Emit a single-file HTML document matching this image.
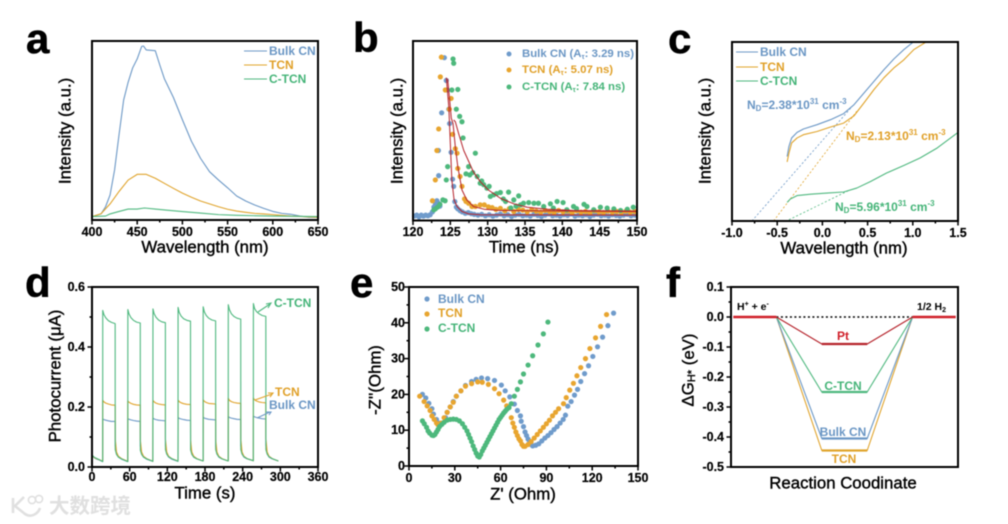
<!DOCTYPE html>
<html>
<head>
<meta charset="utf-8">
<title>Photoelectrochemical characterisation panels</title>
<style>
html,body{margin:0;padding:0;background:#fff;width:1008px;height:524px;overflow:hidden}
svg{display:block;filter:blur(.45px);font-family:"Liberation Sans","Noto Sans CJK SC",sans-serif}
.letter{font-size:42px;font-weight:700;fill:#000;stroke:#000;stroke-width:.5}
.axt{font-size:16.8px;fill:#000;stroke:#000;stroke-width:.4;text-anchor:middle;dominant-baseline:central}
.tick{font-size:12.5px;font-weight:700;fill:#000;stroke:#000;stroke-width:.2}
.leg{font-size:12px;font-weight:700;dominant-baseline:central}
.leg2{font-size:11.4px;font-weight:700;dominant-baseline:central}
.blue{fill:#6a96c4}.orange{fill:#e0a028}.green{fill:#45b478}.red{fill:#d0202a}.black{fill:#000}
</style>
</head>
<body>
<svg id="figure" xmlns="http://www.w3.org/2000/svg" width="1008" height="524" viewBox="0 0 1008 524">
<defs>
<clipPath id="clip-c"><rect x="732" y="42" width="226" height="179"/></clipPath>
</defs>
<rect width="1008" height="524" fill="#fff"/>

<!-- panel letters -->
<text class="letter" x="26" y="53">a</text>
<text class="letter" x="353" y="52">b</text>
<text class="letter" x="668" y="53">c</text>
<text class="letter" x="25" y="297">d</text>
<text class="letter" x="350" y="297">e</text>
<text class="letter" x="666" y="297">f</text>

<g id="panel-a"></g>
<g id="panel-b"></g>
<g id="panel-c"></g>
<g id="panel-d"></g>
<g id="panel-e"></g>
<g id="panel-f"></g>

<!-- axis titles -->
<text class="axt" x="205" y="247">Wavelength (nm)</text>
<text class="axt" transform="rotate(-90 65 131)" x="65" y="131">Intensity (a.u.)</text>
<text class="axt" x="524" y="247">Time (ns)</text>
<text class="axt" transform="rotate(-90 397 131)" x="397" y="131">Intensity (a.u.)</text>
<text class="axt" x="844" y="248">Wavelength (nm)</text>
<text class="axt" transform="rotate(-90 705 131)" x="705" y="131">Intensity (a.u.)</text>
<text class="axt" x="205" y="493">Time (s)</text>
<text class="axt" transform="rotate(-90 55 376)" x="55" y="376">Photocurrent (μA)</text>
<text class="axt" x="523" y="494">Z' (Ohm)</text>
<text class="axt" transform="rotate(-90 375 380)" x="375" y="380">-Z''(Ohm)</text>
<text class="axt" x="843" y="483">Reaction Coodinate</text>
<text class="axt" transform="rotate(-90 688 370)" x="688" y="370">ΔG<tspan font-size="11" dy="4">H*</tspan><tspan dy="-4"> (eV)</tspan></text>

<!-- legend a -->
<g>
<line x1="244" x2="267" y1="51" y2="51" stroke="#6c98c6" stroke-width="1.1"/>
<text class="leg blue" x="269" y="51">Bulk CN</text>
<line x1="244" x2="267" y1="65" y2="65" stroke="#e0a42c" stroke-width="1.1"/>
<text class="leg orange" x="269" y="65">TCN</text>
<line x1="244" x2="267" y1="79" y2="79" stroke="#4fb87f" stroke-width="1.1"/>
<text class="leg green" x="269" y="79">C-TCN</text>
</g>

<!-- legend b -->
<g>
<circle cx="509" cy="54" r="2.5" fill="#6f9bcb"/>
<text class="leg2 blue" x="522" y="54">Bulk CN (A<tspan font-size="7" dy="3">τ</tspan><tspan dy="-3">: 3.29 ns)</tspan></text>
<circle cx="509" cy="70" r="2.5" fill="#e8a52f"/>
<text class="leg2 orange" x="522" y="70">TCN (A<tspan font-size="7" dy="3">τ</tspan><tspan dy="-3">: 5.07 ns)</tspan></text>
<circle cx="509" cy="87" r="2.5" fill="#4db87c"/>
<text class="leg2 green" x="522" y="87">C-TCN (A<tspan font-size="7" dy="3">τ</tspan><tspan dy="-3">: 7.84 ns)</tspan></text>
</g>

<!-- legend c + annotations -->
<g>
<line x1="736" x2="758" y1="52" y2="52" stroke="#6c98c6" stroke-width="1.1"/>
<text class="leg blue" x="760" y="52">Bulk CN</text>
<line x1="736" x2="758" y1="67" y2="67" stroke="#e0a42c" stroke-width="1.1"/>
<text class="leg orange" x="760" y="67">TCN</text>
<line x1="736" x2="758" y1="81" y2="81" stroke="#4fb87f" stroke-width="1.1"/>
<text class="leg green" x="760" y="81">C-TCN</text>
</g>
<text class="leg blue" x="747" y="105">N<tspan font-size="8" dy="3">D</tspan><tspan dy="-3">=2.38*10</tspan><tspan font-size="8" dy="-4">31</tspan><tspan dy="4"> cm</tspan><tspan font-size="8" dy="-4">-3</tspan></text>
<text class="leg orange" x="846" y="136">N<tspan font-size="8" dy="3">D</tspan><tspan dy="-3">=2.13*10</tspan><tspan font-size="8" dy="-4">31</tspan><tspan dy="4"> cm</tspan><tspan font-size="8" dy="-4">-3</tspan></text>
<text class="leg green" x="835" y="207">N<tspan font-size="8" dy="3">D</tspan><tspan dy="-3">=5.96*10</tspan><tspan font-size="8" dy="-4">31</tspan><tspan dy="4"> cm</tspan><tspan font-size="8" dy="-4">-3</tspan></text>

<!-- annotations d -->
<g>
<text class="leg green" x="274" y="303">C-TCN</text>
<path d="M258 312 L270 304 M266 304 L271 303 L268 308" fill="none" stroke="#4fb87f" stroke-width="1.1"/>
<text class="leg orange" x="275" y="392">TCN</text>
<path d="M255 400 L272 394 M268 393 L273 393 L270 397" fill="none" stroke="#e0a42c" stroke-width="1.1"/>
<text class="leg blue" x="269" y="405">Bulk CN</text>
<path d="M257 418 L270 412 M266 412 L271 412 L269 415" fill="none" stroke="#6c98c6" stroke-width="1.1"/>
</g>

<!-- legend e -->
<g>
<circle cx="427" cy="299" r="2.6" fill="#6f9bcb"/>
<text class="leg blue" x="438" y="299">Bulk CN</text>
<circle cx="427" cy="314" r="2.6" fill="#e8a52f"/>
<text class="leg orange" x="438" y="313">TCN</text>
<circle cx="427" cy="329" r="2.6" fill="#4db87c"/>
<text class="leg green" x="438" y="328">C-TCN</text>
</g>

<!-- labels f -->
<text x="737" y="307" font-size="10.5" font-weight="700" class="black" dominant-baseline="central">H<tspan font-size="7" dy="-3">+</tspan><tspan dy="3"> + e</tspan><tspan font-size="7" dy="-3">-</tspan></text>
<text x="917" y="307" font-size="10.5" font-weight="700" class="black" dominant-baseline="central">1/2 H<tspan font-size="7" dy="3">2</tspan></text>
<text class="leg red" x="843" y="336" text-anchor="middle">Pt</text>
<text class="leg green" x="843" y="386" text-anchor="middle">C-TCN</text>
<text class="leg blue" x="843" y="432" text-anchor="middle">Bulk CN</text>
<text class="leg orange" x="844" y="459" text-anchor="middle">TCN</text>

<!-- watermark -->
<g>
<path d="M13 498 L13 513 M24 497 L15 506 L25 514 C31 518 38 514 40 508" fill="none" stroke="#e0e0e0" stroke-width="2.6"/>
<circle cx="32" cy="500" r="3.6" fill="none" stroke="#e0e0e0" stroke-width="1.6"/>
<circle cx="39" cy="499" r="3.6" fill="none" stroke="#e0e0e0" stroke-width="1.6"/>
<text x="49" y="513" font-size="20.5" font-weight="700" fill="#e0e0e0" font-family="'Noto Sans CJK SC','WenQuanYi Zen Hei',sans-serif">大数跨境</text>
</g>
</svg>

<script>
// ---------- Panel a: emission spectra ----------
const aBulkX = [400,410,415,420,425,430,435,440,445,450,455,457,460,470,475,480,490,500,510,520,530,540,550,560,570,580,590,600,610,620,630,640,650];
const aBulkY = [1.9,3.4,7.4,14,28,48,67,77,85,90,97,97.2,95,94.6,86.6,79,68.5,56,44,34.5,27,22.3,18,13.4,10.6,8.4,6.5,4.8,3.7,3.2,2.2,1.5,1.5];
const aTcnX = [400,410,420,430,440,450,460,470,480,490,500,510,520,530,540,550,560,570,580,590,600,620,650];
const aTcnY = [1.9,3.5,9,16,22.3,25.5,25.5,23.3,20.5,17.7,15,12.7,10.6,9,7.4,6,5,4.3,3.7,3.4,3,2.2,1.5];
const aCtcnX = [400,415,420,430,440,450,458,470,480,500,520,540,560,600,650];
const aCtcnY = [1.9,2.2,3.4,4.8,6.1,6.1,6.7,6.1,5.6,4.7,3.9,3,2.6,2.2,1.9];
const aXTicks = [400,450,500,550,600,650];
const aXMinor = [425,475,525,575,625];

// ---------- Panel b: decay ----------
const bBulkT = [120.2,120.5,120.8,121.1,121.4,121.7,122,122.3,122.6,122.8,123,123.2,123.4,123.6,123.44,123.4,123.84,124.2,124.46,124.6,124.8,124.9,125.1,125.3,125.45,125.6,125.8,126,126.3,126.6,127,127.4,127.8,128.2,128.7,129.2,129.7,130.2,130.7,131.2,131.7,132.2,132.7,133.2,133.7,134.2,134.7,135.2,135.7,136.2,136.7,137.2,137.7,138.2,138.7,139.2,139.7,140.2,140.7,141.2,141.7,142.2,142.7,143.2,143.7,144.2,144.7,145.2,145.7,146.2,146.7,147.2,147.7,148.2,148.7,149.2,149.7];
const bBulkY = [2.5,3,2,3,2.4,3,2.6,3.2,4.8,7.5,9,11,9.6,8,25,39,60,90.7,78,72.7,62,54,38,23,19,10.5,7.5,6.5,5.5,4.8,4,4.4,3.8,3.4,3,3.4,2.6,3.2,2.4,3,3.6,2.6,3.2,2.2,3,3.4,2.6,3,2.4,3.4,2.8,2.2,3,3.6,2.6,3,2.4,3.2,2.8,3.6,2.4,3,2.6,3.2,2.2,3,3.4,2.6,3,2.4,3.2,2.8,2.4,3,3.4,2.6,3];
const bTcnT = [122.6,122.99,123.2,123.44,123.66,123.8,124.33,125.1,124.87,125.3,125.67,125.9,126,126.3,126.56,126.9,127.1,127.45,127.9,128.35,129,129.55,130.1,130.6,131.1,131.7,132.3,132.9,133.5,134.1,134.7,135.3,135.9,136.5,137.1,137.7,138.3,138.9,139.5,140.1,140.7,141.3,141.9,142.5,143.1,143.7,144.3,144.9,145.5,146.1,146.7,147.3,147.9,148.5,149.1,149.7];
const bTcnY = [11,22.6,39,51,80,91,72.7,68,62,48,40,37.5,29,24.5,19,12,10.6,9.6,7.8,7.8,8.7,8.7,7.6,7.2,6.2,6.8,5.4,6.6,5,6.2,5.8,4.8,6,5.2,4.6,5.6,5,4.4,5.6,4.8,5.2,4.2,5.4,4.6,5,4.2,5.4,4.8,4.4,5.2,4.6,5,4.4,5.2,4.6,5];
const bCtcnT = [122.8,123,123.3,123.6,124,124.3,124.46,124.64,125.36,125.45,125.2,126,125.8,126.25,126.56,126.7,127.45,127.1,127.6,128.35,128,128.6,129,129.2,129.46,129.9,130.2,130.36,130.8,131.2,131.7,132.1,132.4,132.8,133.1,133.5,133.8,134.15,134.4,134.8,135.5,136.2,136.8,137.5,138.4,138.8,139.3,140.1,140.6,141.5,141.9,142.9,143.3,144.2,145.1,146,146.9,147.8,148.7,149.5];
const bCtcnY = [6,6.5,7.5,9,11.5,11,22.6,30,90,87.6,72.7,73,62,58,55,46,30,26,25.4,37.5,26.7,24.5,20.8,22,20,18,19,13.4,14.3,15,15.6,12,10.6,15.8,7,11.5,8,13.7,8.7,9.6,10,9.6,9.6,7.8,9.3,6.9,10.6,10,6,7.8,6.6,9,7.8,6,7.4,6.9,6.5,5.6,6.3,7.4];
const bFitBulkT = [124.46,124.8,125,125.2,125.5,125.9,126.56,127.45,129,150];
const bFitBulkY = [79.6,63,43,22.6,11.5,7.8,5,3.7,3.2,3];
const bFitTcnT = [124.64,124.87,125.13,125.36,125.67,126,126.56,127.2,128.1,129.5,131.7,150];
const bFitTcnY = [79,69,57,54,41,30,17,11.5,7.8,6.3,5.6,5];
const bFitCtcnT = [125.45,125.67,126.1,126.8,127.45,128.1,129,130.1,131.7,133.5,135.3,138,141.5,150];
const bFitCtcnY = [56,55,48.6,39,33,27,21.7,17,12.4,9.3,7.4,6.3,5.6,5.2];
const bXTicks = [120,125,130,135,140,145,150];
const bXMinor = [122.5,127.5,132.5,137.5,142.5,147.5];

// ---------- Panel c: Mott-Schottky ----------
const cBulkX = [-0.39,-0.37,-0.34,-0.28,-0.21,-0.06,0.09,0.235,0.35,0.46,0.57,0.68,0.79,0.9,1.03];
const cBulkY = [36,41.7,46.4,49.5,51.4,53.8,56.6,60,65,71.5,78,84.5,90.5,95.7,101];
const cTcnX = [-0.39,-0.37,-0.34,-0.28,-0.21,-0.06,0.09,0.235,0.35,0.46,0.57,0.68,0.79,0.9,1.01,1.16];
const cTcnY = [33,38,43.6,46.4,48.2,50,52.5,54.7,58.8,66,73.4,80,85.5,90,95.7,100.4];
const cCtcnX = [-0.39,-0.355,-0.28,-0.13,0.05,0.235,0.38,0.53,0.71,0.9,1.08,1.27,1.5];
const cCtcnY = [10.4,12.3,14.2,15,15.6,16.2,18.4,22,26.8,31,35.2,40.8,49.5];
const cTangentBulkX = [-0.78,0.33];
const cTangentBulkY = [0,64];
const cTangentTcnX = [-0.54,0.38];
const cTangentTcnY = [0,61.3];
const cTangentCtcnX = [-0.37,0.31];
const cTangentCtcnY = [0.7,17.5];
const cXTicks = [-1,-0.5,0,0.5,1,1.5];
const cXLabels = ['-1.0','-0.5','0.0','0.5','1.0','1.5'];
const cXMinor = [-0.75,-0.25,0.25,0.75,1.25];

// ---------- Panel d: photocurrent ----------
const dTime = [0,1,4,8,12,16.9,
 17,17.1,19,22,26,31,36.9,37,39,42,47,56.9,
 57,57.1,59,62,66,71,76.9,77,79,82,87,96.9,
 97,97.1,99,102,106,111,116.9,117,119,122,127,136.9,
 137,137.1,139,142,146,151,156.9,157,159,162,167,176.9,
 177,177.1,179,182,186,191,196.9,197,199,202,207,216.9,
 217,217.1,219,222,226,231,236.9,237,239,242,247,256.9,
 257,257.1,259,262,266,271,276.9,277,279,282,287,296.9];
const dCtcn = [.045,.038,.032,.028,.024,.018,
 .018,.522,.508,.497,.488,.482,.478,.058,.042,.033,.027,.018,
 .018,.525,.510,.498,.489,.483,.480,.056,.042,.033,.027,.019,
 .019,.527,.511,.499,.490,.484,.481,.058,.043,.034,.028,.019,
 .019,.532,.515,.503,.494,.489,.486,.057,.042,.033,.027,.020,
 .020,.534,.517,.505,.496,.490,.487,.058,.043,.034,.027,.020,
 .020,.541,.524,.511,.502,.496,.493,.058,.043,.034,.028,.021,
 .021,.545,.528,.518,.511,.505,.502,.058,.043,.034,.028,.020];
const dTcn = [.042,.036,.031,.027,.024,.019,
 .019,.222,.217,.213,.210,.207,.206,.095,.050,.036,.028,.019,
 .019,.220,.216,.212,.209,.207,.206,.090,.050,.036,.028,.019,
 .019,.222,.217,.213,.210,.208,.207,.092,.050,.036,.028,.020,
 .020,.223,.218,.214,.211,.209,.208,.090,.050,.036,.028,.020,
 .020,.224,.219,.215,.212,.211,.210,.092,.050,.036,.028,.020,
 .020,.229,.222,.218,.215,.213,.212,.095,.050,.036,.028,.021,
 .021,.230,.224,.220,.217,.215,.214,.095,.050,.036,.028,.020];
const dBulk = [.040,.035,.030,.026,.023,.018,
 .018,.160,.158,.156,.154,.152,.152,.072,.044,.033,.026,.018,
 .018,.161,.159,.157,.155,.153,.152,.070,.044,.033,.026,.019,
 .019,.163,.160,.158,.156,.155,.154,.070,.044,.033,.026,.019,
 .019,.165,.162,.160,.158,.156,.155,.070,.044,.033,.027,.020,
 .020,.166,.163,.161,.159,.158,.157,.070,.044,.033,.027,.020,
 .020,.168,.165,.163,.161,.159,.158,.072,.044,.033,.027,.021,
 .021,.170,.167,.165,.163,.161,.160,.072,.044,.033,.027,.020];
const dXTicks = [0,60,120,180,240,300,360];
const dXMinor = [30,90,150,210,270,330];
const dYTicks = [0,0.2,0.4,0.6];
const dYLabels = ['0.0','0.2','0.4','0.6'];
const dYMinor = [0.1,0.3,0.5];

// ---------- Panel e: Nyquist ----------
const eBulkX = [8.8,11,13,15,16,18,19.5,22,24,25,27,29,31,34,37,41,44,47.5,51.5,56,60.5,63,66,69,71,73,73.5,75,76,77,78,79,80,81,83,85,87,89,91,93,95,97,99,101,102.5,104,106.2,108.4,110.4,112.5,115,117.6,120.4,123.5,126.8,130.3,134];
const eBulkY = [20,19,17.5,16,14.5,13,12,12,13.5,15,16.5,18,19.5,21,22.5,23.6,24.2,24.6,24.4,23.9,22.6,21,19.3,17.3,15.5,14,12.5,11,9.5,8.5,7.5,6.5,6,5.6,5.8,6.2,7,7.8,8.5,9.3,10.2,11,12,13,14.2,16.7,18,19.8,21.4,23.6,25.8,28,30.6,33.3,36,39.2,42.7];
const eTcnX = [7,9.9,11.9,13.8,15,16.5,18,19,21,23,25,27,29,31,34,37,41,45,48,52,56,59,62,64,67,68,69,70,71,72,73,74,75,76,78,80,82,84,86,88,90,92,94,96,98,101.2,103,105.3,107.7,110,112.5,115.6,118.5,122.2,125.5,129.4];
const eTcnY = [19.5,18,16.8,15.5,14,13,12,11.5,12,13.5,15,16.5,17.8,19.5,21,22.3,23,23.5,23.4,22.8,21.6,20.2,18.4,16.8,13.5,12,10.8,9.5,8.5,7.6,7,6,5.5,5.5,6,6.8,7.8,8.8,9.8,10.8,11.8,12.8,14,15,16,17.4,19.1,21.2,23.1,25.2,27.5,30,32.8,35.8,39,42.3];
const eCtcnX = [8.8,10,11.5,12.5,13.5,15,16,17,18,19,20,21.5,23,25,27,29,31,33,35,36.5,38,39,40,41,42,43,44,45,46,47,48,49,50,51,52,53,54,55,56,57,58,59,60,61,62,63,64,65.5,67,69,71,73,75,78,81,84.5,88,91];
const eCtcnY = [12.6,11.8,10.8,9.8,9.2,8.6,8.5,8.8,9.5,10.2,11,11.6,12.2,12.8,13,13.1,13,12.6,11.8,10.8,9.8,8.8,7.8,6.8,5.6,4.6,3.6,2.8,2.5,3.2,4.2,5,5.8,6.6,7.4,8.2,9,9.8,10.6,11.4,12.2,13,13.6,14.2,14.8,15.3,15.8,16.3,17.4,19.5,21.4,23.5,25.7,28.2,30.8,33.8,36.9,40.2];
const eXTicks = [0,30,60,90,120,150];
const eXMinor = [15,45,75,105,135];
const eYTicks = [0,10,20,30,40,50];
const eYMinor = [5,15,25,35,45];

// ---------- Panel f: free energy ----------
const fLevelPt = -0.09;
const fLevelCtcn = -0.25;
const fLevelBulk = -0.405;
const fLevelTcn = -0.445;
const fYTicks = [-0.5,-0.4,-0.3,-0.2,-0.1,0,0.1];
const fYLabels = ['-0.5','-0.4','-0.3','-0.2','-0.1','0.0','0.1'];
const fYMinor = [-0.45,-0.35,-0.25,-0.15,-0.05,0.05];

const SVGNS = 'http://www.w3.org/2000/svg';
const BLUE = '#6c98c6', ORANGE = '#e0a42c', GREEN = '#4fb87f', DOT_BLUE = '#6f9bcb', DOT_ORANGE = '#e8a52f', DOT_GREEN = '#4db87c', FIT = '#b5232b', RED = '#d0202a';

function linear(d0, d1, r0, r1) {
  return function (v) { return r0 + (v - d0) / (d1 - d0) * (r1 - r0); };
}
function curve(parent, name, xs, ys, sx, sy, color, width, dash) {
  const el = document.createElementNS(SVGNS, 'path');
  let d = '';
  for (let i = 0; i < xs.length; i++) {
    d += (i ? 'L' : 'M') + sx(xs[i]).toFixed(2) + ' ' + sy(ys[i]).toFixed(2);
  }
  el.setAttribute('d', d);
  el.setAttribute('fill', 'none');
  el.setAttribute('stroke', color);
  el.setAttribute('stroke-width', width);
  el.setAttribute('stroke-linejoin', 'round');
  if (dash) el.setAttribute('stroke-dasharray', dash);
  
  
  parent.appendChild(el);
  return el;
}
function dots(parent, name, xs, ys, sx, sy, color, r) {
  const g = document.createElementNS(SVGNS, 'g');
  
  
  for (let i = 0; i < xs.length; i++) {
    const c = document.createElementNS(SVGNS, 'circle');
    c.setAttribute('cx', sx(xs[i]).toFixed(2));
    c.setAttribute('cy', sy(ys[i]).toFixed(2));
    c.setAttribute('r', r);
    c.setAttribute('fill', color);
    
    
    g.appendChild(c);
  }
  parent.appendChild(g);
}
function tickMark(parent, name, x1, y1, x2, y2) {
  const t = document.createElementNS(SVGNS, 'line');
  t.setAttribute('x1', x1);
  t.setAttribute('y1', y1);
  t.setAttribute('x2', x2);
  t.setAttribute('y2', y2);
  t.setAttribute('stroke', '#000');
  t.setAttribute('stroke-width', 1.5);
  
  
  parent.appendChild(t);
}
function tickText(parent, name, x, y, anchor, str) {
  const t = document.createElementNS(SVGNS, 'text');
  t.setAttribute('x', x);
  t.setAttribute('y', y);
  t.setAttribute('text-anchor', anchor);
  t.setAttribute('dominant-baseline', 'central');
  t.setAttribute('class', 'tick');
  
  
  t.textContent = str;
  parent.appendChild(t);
}
function xAxis(parent, ticks, labels, minor, sx, base, labelY) {
  minor.forEach(function (v) { tickMark(parent, 'x-minor-tick', sx(v), base, sx(v), base + 2.5); });
  ticks.forEach(function (v, i) {
    tickMark(parent, 'x-major-tick', sx(v), base, sx(v), base + 4.5);
    tickText(parent, 'x-tick-label', sx(v), labelY, 'middle', labels ? labels[i] : String(v));
  });
}
function yAxis(parent, ticks, labels, minor, sy, base, labelX) {
  minor.forEach(function (v) { tickMark(parent, 'y-minor-tick', base, sy(v), base - 2.5, sy(v)); });
  ticks.forEach(function (v, i) {
    tickMark(parent, 'y-major-tick', base, sy(v), base - 4.5, sy(v));
    tickText(parent, 'y-tick-label', labelX, sy(v), 'end', labels ? labels[i] : String(v));
  });
}
function frame(parent, x0, y0, x1, y1) {
  const r = document.createElementNS(SVGNS, 'rect');
  r.setAttribute('x', x0);
  r.setAttribute('y', y0);
  r.setAttribute('width', x1 - x0);
  r.setAttribute('height', y1 - y0);
  r.setAttribute('fill', 'none');
  r.setAttribute('stroke', '#000');
  r.setAttribute('stroke-width', 2);
  
  
  parent.appendChild(r);
}

// Panel a
(function () {
  const g = document.getElementById('panel-a');
  const sx = linear(400, 650, 92, 318), sy = linear(0, 100, 220, 41);
  curve(g, 'line-bulk-cn', aBulkX, aBulkY, sx, sy, BLUE, 1.1);
  curve(g, 'line-tcn', aTcnX, aTcnY, sx, sy, ORANGE, 1.1);
  curve(g, 'line-c-tcn', aCtcnX, aCtcnY, sx, sy, GREEN, 1.1);
  xAxis(g, aXTicks, null, aXMinor, sx, 220, 232);
  frame(g, 92, 41, 318, 220);
})();

// Panel b
(function () {
  const g = document.getElementById('panel-b');
  const sx = linear(120, 150, 413, 637), sy = linear(0, 100, 220.5, 41);
  dots(g, 'scatter-bulk-cn', bBulkT, bBulkY, sx, sy, DOT_BLUE, 2.6);
  dots(g, 'scatter-tcn', bTcnT, bTcnY, sx, sy, DOT_ORANGE, 2.6);
  dots(g, 'scatter-c-tcn', bCtcnT, bCtcnY, sx, sy, DOT_GREEN, 2.6);
  curve(g, 'fit-bulk-cn', bFitBulkT, bFitBulkY, sx, sy, FIT, 1);
  curve(g, 'fit-tcn', bFitTcnT, bFitTcnY, sx, sy, FIT, 1);
  curve(g, 'fit-c-tcn', bFitCtcnT, bFitCtcnY, sx, sy, FIT, 1);
  xAxis(g, bXTicks, null, bXMinor, sx, 220.5, 232);
  frame(g, 413, 41, 637, 220.5);
})();

// Panel c
(function () {
  const g = document.getElementById('panel-c');
  const sx = linear(-1, 1.5, 732, 958), sy = linear(0, 100, 221, 42);
  const clip = document.createElementNS(SVGNS, 'g');
  clip.setAttribute('clip-path', 'url(#clip-c)');
  
  
  g.appendChild(clip);
  curve(clip, 'tangent-bulk-cn', cTangentBulkX, cTangentBulkY, sx, sy, BLUE, 0.8, '2 2');
  curve(clip, 'tangent-tcn', cTangentTcnX, cTangentTcnY, sx, sy, ORANGE, 0.8, '2 2');
  curve(clip, 'tangent-c-tcn', cTangentCtcnX, cTangentCtcnY, sx, sy, GREEN, 0.8, '2 2');
  curve(clip, 'line-bulk-cn', cBulkX, cBulkY, sx, sy, BLUE, 1.1);
  curve(clip, 'line-tcn', cTcnX, cTcnY, sx, sy, ORANGE, 1.1);
  curve(clip, 'line-c-tcn', cCtcnX, cCtcnY, sx, sy, GREEN, 1.1);
  xAxis(g, cXTicks, cXLabels, cXMinor, sx, 221, 233);
  frame(g, 732, 42, 958, 221);
})();

// Panel d
(function () {
  const g = document.getElementById('panel-d');
  const sx = linear(0, 360, 92, 318), sy = linear(0, 0.6, 467, 287);
  curve(g, 'line-bulk-cn', dTime, dBulk, sx, sy, BLUE, 1.1);
  curve(g, 'line-tcn', dTime, dTcn, sx, sy, ORANGE, 1.1);
  curve(g, 'line-c-tcn', dTime, dCtcn, sx, sy, GREEN, 1.1);
  xAxis(g, dXTicks, null, dXMinor, sx, 467, 477);
  yAxis(g, dYTicks, dYLabels, dYMinor, sy, 92, 85);
  frame(g, 92, 287, 318, 467);
})();

// Panel e
(function () {
  const g = document.getElementById('panel-e');
  const sx = linear(0, 150, 409, 638), sy = linear(0, 50, 466, 287);
  dots(g, 'scatter-bulk-cn', eBulkX, eBulkY, sx, sy, DOT_BLUE, 2.6);
  dots(g, 'scatter-tcn', eTcnX, eTcnY, sx, sy, DOT_ORANGE, 2.6);
  dots(g, 'scatter-c-tcn', eCtcnX, eCtcnY, sx, sy, DOT_GREEN, 2.6);
  xAxis(g, eXTicks, null, eXMinor, sx, 466, 478);
  yAxis(g, eYTicks, null, eYMinor, sy, 409, 405);
  frame(g, 409, 287, 638, 466);
})();

// Panel f
(function () {
  const g = document.getElementById('panel-f');
  const sx = linear(0, 5, 731, 958), sy = linear(-0.5, 0.1, 467, 287);
  function profile(name, level, color) {
    curve(g, 'connector-' + name, [1, 2, 3, 4], [0, level, level, 0], sx, sy, color, 1.1);
    curve(g, 'level-' + name, [2, 3], [level, level], sx, sy, color, 2.2);
  }
  profile('tcn', fLevelTcn, ORANGE);
  profile('bulk-cn', fLevelBulk, BLUE);
  profile('c-tcn', fLevelCtcn, GREEN);
  curve(g, 'zero-reference-line', [1, 4], [0, 0], sx, sy, '#000', 1.6, '2 2.5');
  profile('pt', fLevelPt, '#b5232b');
  curve(g, 'level-reactant', [0.05, 1], [0, 0], sx, sy, RED, 2.4);
  curve(g, 'level-product', [4, 4.95], [0, 0], sx, sy, RED, 2.4);
  yAxis(g, fYTicks, fYLabels, fYMinor, sy, 731, 724);
  frame(g, 731, 287, 958, 467);
})();
</script>
</body>
</html>
